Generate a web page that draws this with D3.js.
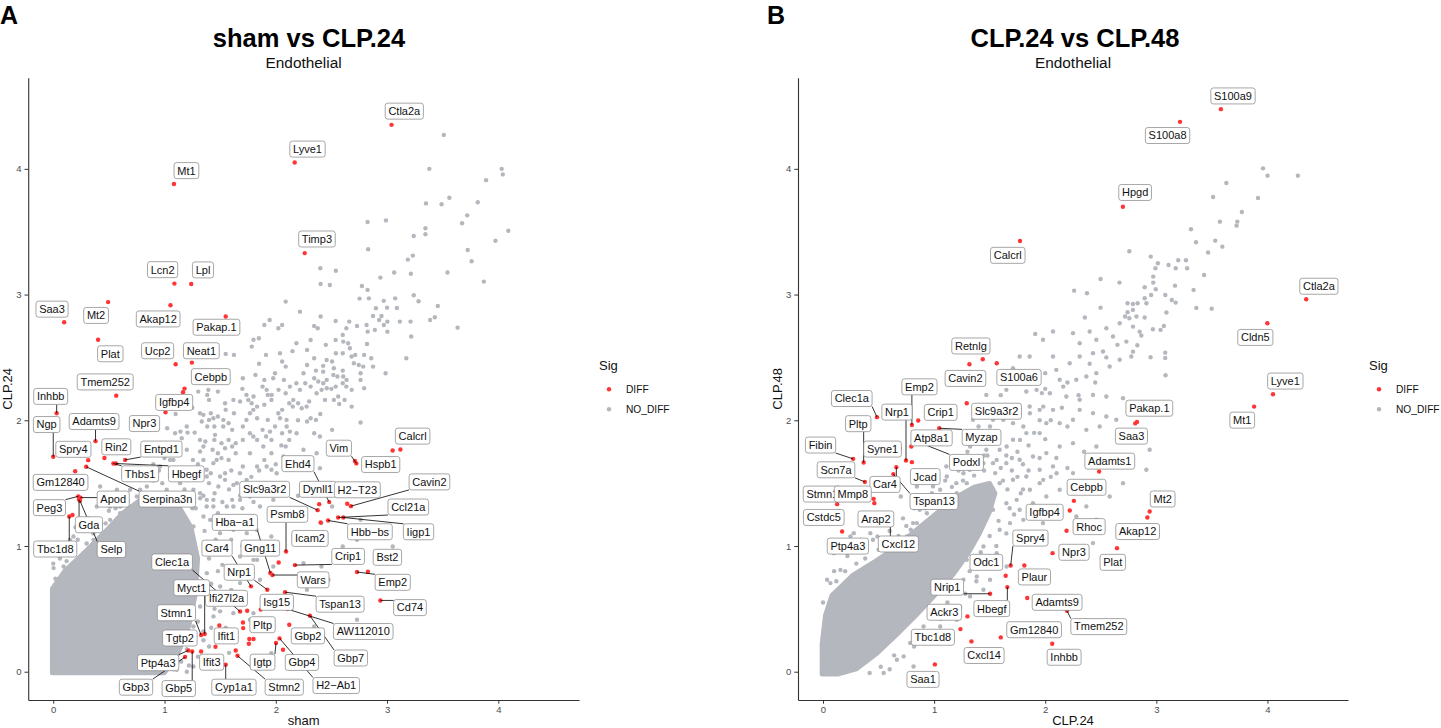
<!DOCTYPE html>
<html><head><meta charset="utf-8">
<script src="https://cdn.jsdelivr.net/npm/d3@7"></script>
<style>
body{margin:0;background:#fff}
svg{display:block}
text{font-family:"Liberation Sans",Arial,Helvetica,sans-serif}
</style></head>
<body><svg id="c" width="1441" height="728"></svg>
<script>
// ---------------- DATA ----------------
const tickValues = [0, 1, 2, 3, 4];
const panelTags = ["A", "B"];
const panelTitles = ["sham vs CLP.24", "CLP.24 vs CLP.48"];
const panelSubtitles = ["Endothelial", "Endothelial"];
const xTitles = ["sham", "CLP.24"];
const yTitles = ["CLP.24", "CLP.48"];
const legendTitle = "Sig";
const legendKeys = ["DIFF", "NO_DIFF"];

// significant genes: [gene, x, y]
const diffA = [
["Ctla2a",3.04,4.35],["Lyve1",2.17,4.05],["Mt1",1.085,3.88],["Timp3",2.26,3.33],
["Lcn2",1.089,3.087],["Lpl",1.24,3.084],["Mt2",0.493,2.94],["Saa3",0.098,2.78],
["Akap12",1.054,2.915],["Pakap.1",1.55,2.825],["Plat",0.403,2.64],["Ucp2",1.10,2.446],
["Neat1",1.246,2.459],["Cebpb",1.18,2.252],["Tmem252",0.566,2.196],["Igfbp4",1.009,2.064],
["Inhbb",0.031,2.056],["Ngp",0.0,1.71],["Adamts9",0.38,1.834],["Npr3",0.86,1.95],
["Spry4",0.314,1.683],["Rin2",0.46,1.70],["Entpd1",0.646,1.685],["Thbs1",0.541,1.656],
["Hbegf",0.563,1.656],["Serpina3n",0.296,1.63],["Gm12840",0.197,1.595],["Peg3",0.225,1.395],
["Apod",0.245,1.385],["Gda",0.232,1.37],["Selp",0.24,1.36],["Tbc1d8",0.144,1.235],
["Vim",2.724,1.657],["Hspb1",2.711,1.677],["Calcrl",3.05,1.76],["Ehd4",2.48,1.349],
["Dynll1",2.39,1.333],["Slc9a3r2",2.376,1.285],["H2\u2212T23",2.642,1.336],["Cavin2",2.675,1.317],
["Ccl21a",2.56,1.227],["Hbb\u2212bs",2.47,1.203],["Iigp1",2.607,1.227],["Icam2",2.403,1.187],
["Psmb8",2.092,0.956],["Hba\u2212a1",1.951,0.785],["Gng11",2.026,0.869],["Wars",1.97,0.769],
["Crip1",2.172,0.848],["Car4",1.777,0.679],["Nrp1",1.924,0.652],["Tspan13",2.083,0.633],
["Isg15",1.865,0.494],["AW112010",2.105,0.498],["Gbp7",2.307,0.445],["Gbp2",2.121,0.374],
["Gbp4",2.065,0.175],["H2\u2212Ab1",2.034,0.265],["Igtp",2.002,0.228],["Pltp",1.705,0.392],
["Clec1a",1.679,0.479],["Ifi27l2a",1.743,0.485],["Myct1",1.361,0.30],["Stmn1",1.329,0.292],
["Tgtp2",1.329,0.161],["Ptp4a3",1.214,0.169],["Gbp5",1.249,0.161],["Gbp3",1.185,0.117],
["Ifit1",1.493,0.368],["Ifit3",1.458,0.199],["Cyp1a1",1.55,0.056],["Stmn2",1.656,0.127],
["Bst2",2.828,0.795],["Emp2",2.73,0.793],["Cd74",2.94,0.567]
];
const diffExtraA = [[1.166,2.223],[0.173,1.246],[3.12,1.767],[1.707,0.347],[1.762,0.26],[1.80,0.26],[1.758,0.223],[1.64,0.169]];

const diffB = [
["S100a9",3.581,4.475],["S100a8",3.213,4.374],["Hpgd",2.699,3.699],["Calcrl",1.773,3.426],
["Ctla2a",4.349,2.963],["Cldn5",3.999,2.772],["Lyve1",4.05,2.207],["Mt1",3.88,2.109],
["Pakap.1",2.826,1.987],["Saa3",2.81,1.975],["Retnlg",1.438,2.486],["Cavin2",1.318,2.446],
["S100a6",1.564,2.454],["Slc9a3r2",1.294,2.136],["Crip1",0.857,1.998],["Emp2",0.80,1.963],
["Clec1a",0.486,2.025],["Nrp1",0.747,1.68],["Myzap",1.046,1.937],["Atp8a1",0.795,1.791],
["Podxl",0.846,1.831],["Syne1",0.691,1.775],["Jcad",0.80,1.667],["Fibin",0.271,1.693],
["Pltp",0.366,1.664],["Scn7a",0.377,1.51],["Car4",0.66,1.627],["Tspan13",0.633,1.572],
["Stmn1",0.127,1.333],["Mmp8",0.456,1.375],["Cstdc5",0.142,1.274],["Ptp4a3",0.172,1.115],
["Arap2",0.606,1.033],["Cxcl12",0.74,1.0],["Igfbp4",2.221,1.282],["Cebpb",2.258,1.359],
["Adamts1",2.485,1.592],["Rhoc",2.192,1.121],["Mt2",2.94,1.274],["Akap12",2.919,1.227],
["Npr3",2.066,0.943],["Plat",2.646,0.983],["Spry4",1.689,0.845],["Odc1",1.644,0.763],
["Plaur",1.812,0.845],["Nrip1",1.504,0.62],["Hbegf",1.659,0.673],["Adamts9",1.838,0.586],
["Tmem252",2.196,0.485],["Ackr3",1.30,0.44],["Tbc1d8",1.237,0.339],["Gm12840",1.60,0.273],
["Cxcl14",1.336,0.241],["Inhbb",2.063,0.223],["Saa1",1.007,0.058]
];
const diffExtraB = [[0.462,1.341]];

// non-significant genes (sparse & medium density zones)
const greyA_top = [
[3.51,4.27],[3.38,4.0],[4.03,4.0],[4.04,3.956],[3.89,3.91],[3.56,3.77],[3.35,3.725],[3.49,3.718],[3.815,3.734],[3.72,3.63],[3.674,3.567],[4.09,3.508],[2.825,3.577],[2.99,3.59],[3.345,3.527],[3.345,3.48],[3.24,3.466],[3.974,3.428],[2.83,3.36],[3.725,3.355],[3.232,3.31],[3.187,3.278],[3.76,3.265],[2.54,3.19],[3.064,3.175],[3.214,3.166],[3.543,3.175],[2.94,3.135],[3.87,3.103],[2.774,3.068],[2.825,3.037],[2.753,2.968],[2.837,2.97],[2.97,2.95],[3.073,2.97],[3.085,2.99],[3.24,2.995],[3.267,3.007],[3.283,2.947],[3.456,2.909],[2.9,2.891],[3.0,2.896],[3.088,2.893],[2.486,3.076]
];
const greyA_band = [
[1.024,1.937],[1.095,1.897],[1.143,1.91],[1.207,1.902],[1.271,1.902],[1.335,1.99],[1.416,2.056],[1.544,2.136],[1.384,2.202],[1.40,2.162],[1.303,2.228],[1.48,2.228],[1.55,2.083],[1.624,2.056],[1.576,1.977],[1.528,1.95],[1.448,1.844],[1.367,1.831],[1.432,1.765],[1.32,1.752],[1.255,1.685],[1.512,1.699],[1.608,1.791],[1.704,1.844],[1.768,1.738],[1.704,1.632],[1.544,1.579],[1.416,1.579],[1.32,1.606],[1.624,2.52],[1.55,2.528],[1.704,2.334],[1.817,2.361],[1.897,2.321],[1.881,2.268],[1.80,2.189],[1.736,2.202],[1.928,2.202],[2.089,2.215],[1.977,2.334],[1.80,2.64],[1.848,2.652],[1.784,2.586],[1.912,2.52],[1.897,2.758],[1.945,2.798],[2.057,2.758],[2.089,2.944],[2.217,2.864],
[2.40,3.209],[2.403,3.084],[2.467,3.076],
[3.211,2.785],[3.429,2.819],[3.387,2.798],[3.634,2.737],[2.874,2.83],[2.929,2.798],[3.003,2.785],[2.971,2.758],[3.003,2.705],[2.89,2.719],[2.826,2.705],[2.73,2.75],[2.66,2.785],[3.217,2.666],[2.538,2.79],[2.403,2.825],
[2.634,2.732],[2.602,2.679],[2.538,2.639],[2.586,2.666],[2.65,2.613],[2.666,2.573],[2.714,2.52],[2.698,2.507],[2.602,2.533],[2.82,2.607],[2.794,2.52],[2.778,2.493],[2.858,2.493],[2.874,2.427],[2.987,2.374],[3.173,2.493],[2.746,2.44],[2.762,2.374],[2.762,2.321],[2.794,2.255],[2.762,1.982],
[2.506,2.467],[2.426,2.433],[2.361,2.395],[2.426,2.387],[2.522,2.414],[2.602,2.395],[2.554,2.348],[2.458,2.321],
[2.345,2.493],[2.281,2.44],[2.249,2.374],[2.185,2.294],[2.265,2.294],[2.313,2.268],[2.345,2.334],
[2.602,2.294],[2.634,2.268],[2.682,2.242],[2.538,2.268],[2.458,2.255],[2.442,2.162],[2.522,2.162],[2.57,2.13],[2.682,2.109],[2.618,2.162],
[2.201,2.136],[2.153,2.109],[2.233,2.096],[2.313,2.016],[2.361,2.003],[2.281,1.99],[2.506,1.924],[2.345,1.897],
[2.345,2.75],[2.377,2.732],[2.185,2.613],[2.313,2.639],[2.281,2.56],
[2.057,2.467],[2.089,2.427],[1.993,2.374],[2.073,2.321],[2.025,2.242],[2.089,2.189],[2.121,2.136],[2.057,2.083],
[1.961,2.162],[1.897,2.123],[1.832,2.109],[1.768,2.056],[1.736,2.003],[1.832,2.016],[1.928,2.003],[1.993,1.95],[2.057,1.897],[2.121,1.844],[2.089,1.791],
[1.881,1.924],[1.913,1.871],[1.961,1.844],[1.832,1.844],[1.768,1.897],[1.704,1.95],
[2.249,1.765],[1.961,1.738],[1.897,1.685],[1.832,1.632],[1.961,1.606],
[1.608,1.924],[1.576,1.844],[1.64,1.818],[1.544,1.778],[1.64,1.738],[1.576,1.685],[1.48,1.738],[1.512,1.818],
[1.448,1.95],[1.384,1.95],[1.40,2.003],[1.48,2.03]
];
const greyA_mid = [
[2.10,2.94],[2.217,2.856],[2.397,2.83],[2.531,2.785],[2.651,2.79],[2.726,2.758],[2.816,2.758],[2.90,2.777],[2.906,2.891],[2.995,2.904],[3.085,2.899],[2.95,2.83],[2.98,2.798],[2.89,2.724],[2.98,2.718],[3.01,2.692],[3.115,2.785],[3.205,2.785],[3.289,2.944],[3.459,2.909],[3.429,2.825],[3.40,2.785],[3.633,2.737],[3.175,2.493],[2.876,2.493],[2.756,2.44],[2.786,2.427],[2.846,2.4],[2.99,2.374],[2.681,2.507],[2.702,2.454],[2.636,2.546],[2.606,2.626],[2.651,2.613],[2.576,2.666],[2.54,2.533],[2.457,2.48],[2.442,2.427],[2.367,2.467],[2.337,2.493],[2.307,2.427],[2.262,2.308],[2.217,2.242],[2.187,2.109],[2.232,2.109],[2.277,2.109],[2.367,2.374],[2.382,2.308],[2.427,2.295],[2.487,2.321],[2.517,2.361],[2.606,2.348],[2.636,2.321],[2.696,2.268],[2.771,2.334],[2.786,2.255],[2.681,2.109],[2.756,1.99],[2.561,2.189],[2.472,2.189],[2.517,2.162],[2.367,2.215],[2.412,2.242],[2.127,2.268],[2.083,2.215],[2.068,2.44],[2.038,2.533],[2.023,2.732],[1.948,2.798],[1.903,2.745],[1.798,2.652],[1.843,2.639],[1.783,2.599],[1.709,2.334],[1.813,2.361],[1.888,2.348],[1.918,2.242],[1.963,2.202],[1.873,2.255],[1.753,2.162],[1.783,2.136],[1.679,2.149],[1.619,2.083],[1.574,2.109],[1.499,2.056],[1.529,2.003],[1.469,1.937],[1.439,2.016],[1.379,2.202],[1.394,2.149],[1.35,2.043],[2.038,2.016],[2.023,2.056],[2.098,1.95],[2.127,1.91],[2.187,1.897],[2.053,1.871],[2.008,1.95],[1.948,1.91],[1.903,1.844],[1.843,1.844],[1.768,1.897],[1.798,1.871],[1.709,1.871],[1.679,1.844],[1.619,1.818],[1.559,1.791],[1.589,1.765],[1.499,1.844],[1.439,1.791],[1.41,1.765],[1.439,1.659],[1.35,1.685],[1.41,1.579],[1.499,1.553],[1.544,1.526],[1.619,1.486],[1.709,1.486],[1.828,1.473],[1.888,1.42],[1.768,1.394],[1.679,1.367],[1.619,1.314],[1.559,1.235],[1.439,1.367],[1.379,1.314],[1.35,1.235],[1.41,1.208],[1.484,1.473],[2.397,1.871],[2.232,1.791],[2.367,1.738],[2.397,1.619],[1.963,1.765],[1.918,1.632],[2.068,1.712],[2.008,1.579],[1.858,1.314],[1.978,1.367],[1.948,1.235],[1.738,1.235],[1.619,1.129],[1.499,1.102],[1.828,1.129]
];
const greyA_halo = [
[1.394,2.242],[1.319,2.056],[1.215,1.897],[1.155,1.857],[1.319,1.844],[1.454,1.884],[1.559,1.818],[1.619,1.712],[1.469,1.685],[1.379,1.606],[1.20,1.606],[1.26,1.526],[1.14,1.5],[1.02,1.447],[0.87,1.394],[0.81,1.288],[0.93,1.208],[1.08,1.288],[1.32,1.42],[1.50,1.526],[1.678,1.579],[1.828,1.659],[1.439,1.314],[1.619,1.288],[1.738,1.526],[1.888,1.791],[1.978,1.924],[2.097,2.003],[1.798,2.083],[1.619,2.162],[2.157,2.162],[2.007,2.215],[0.661,1.076],[0.781,1.129],
[0.392,1.155],[0.511,1.208],[0.601,1.261],[0.511,1.314],[0.721,1.208],[0.781,1.447],[0.87,1.526],[0.96,1.632],[1.08,1.685],[1.02,1.791],[0.422,1.473],[0.182,1.076],[0.272,0.943],[0.422,0.837],[0.601,0.89],
[0.003,0.824],[-0.012,0.97],[0.093,0.837],[0.153,0.97],[0.243,0.89],[0.302,0.97],[0.362,1.049],[0.452,1.076],[0.542,1.129],[0.632,1.235],[0.691,1.314],[0.602,1.314],[0.751,1.394],[0.841,1.473],[0.931,1.526],[0.781,1.526],[0.691,1.447],[0.512,1.235],[0.422,1.155],[0.183,1.076],[0.392,1.314],[0.482,1.367],[0.572,1.447],[0.661,1.526],[0.841,1.606],[0.961,1.632],[1.05,1.685],[1.11,1.738],[1.2,1.765],[1.35,1.791],[1.44,1.738],[1.26,1.659],[1.38,1.553],[1.26,1.447],[1.14,1.394],[1.38,1.367],[1.50,1.447],[1.56,1.314],[1.38,1.235],[1.26,1.155],[1.14,1.235],[1.05,1.155],[1.02,1.049],[1.14,1.049],[1.26,1.049],[1.619,1.155],[1.739,1.102],[1.799,1.182],[1.679,0.917],[1.799,0.89],[1.56,0.837],[1.38,0.784],[1.26,0.731],[1.2,0.784],[1.14,0.705],[1.17,0.599],[1.32,0.519],[1.20,0.44],[1.11,0.36],[1.26,0.36],[1.02,0.254],[1.14,0.254],[0.901,0.148],[1.02,0.122],[1.26,0.042],[1.44,0.44],[1.56,0.599],[1.679,0.705],[1.50,0.678],[1.858,0.731],[1.978,0.837],[1.619,0.466],[1.799,0.466],[1.50,0.254],[0.841,0.0],[0.961,-0.011],[1.11,0.016],
[1.48,1.261],[1.608,1.367],[1.768,1.473],[1.96,1.42],[2.345,1.473],[2.506,1.314],[2.41,1.182],[1.96,1.076],[1.832,0.89],[2.249,0.864],[2.41,0.837],[2.28,0.652],[2.474,0.731],[2.698,0.864],[2.73,1.049],[2.762,1.208],[2.602,0.996],[2.602,0.572],[2.73,0.413],[2.922,0.28],[3.115,0.731],[3.051,0.996],[2.345,0.36],[1.96,0.36],[2.217,0.042],[1.96,0.148],[1.768,0.413]
];
const greyA_edge = [
[0.02,0.74],[0.0,0.86],[0.06,0.9],[0.12,0.88],[0.18,0.95],[0.1,1.02],[0.22,1.05],[0.3,1.02],[0.28,1.12],[0.36,1.1],[0.4,1.2],[0.47,1.18],[0.5,1.28],[0.56,1.3],[0.6,1.38],[0.67,1.36],[0.7,1.45],[0.76,1.47],[0.82,1.5],[0.9,1.52],[0.98,1.5],[1.05,1.55],[1.12,1.5],[1.18,1.45],[1.22,1.38],[1.28,1.3],[1.33,1.22],[1.36,1.12],[1.38,1.0],[1.4,0.9],[1.37,0.78],[1.36,0.66],[1.32,0.52],[1.3,0.4],[1.25,0.28],[1.2,0.18],[1.15,0.08],[1.08,0.02],[1.3,0.12],[1.35,0.25],[1.42,0.35],[1.45,0.6],[1.48,0.8],[1.46,1.05],[1.44,1.2],[1.35,1.4],[1.25,1.55],[1.16,1.62],[0.95,1.6],[0.85,1.58],[0.7,1.55],[0.6,1.46],[0.5,1.4],[0.4,1.3],[0.32,1.22],[0.2,1.15],[0.15,1.05],[0.05,0.98],[1.0,1.7],[1.1,1.68],[1.3,1.65],[1.4,1.5],[1.52,1.35],[1.55,1.15],[1.58,0.95],[1.52,0.7],[1.5,0.48],[1.4,0.2],[1.38,0.05],[1.22,0.05],[1.2,0.0],
[1.25,1.3],[1.32,1.38],[1.45,1.42],[1.52,1.55],[1.6,1.6],[1.65,1.5],[1.72,1.62],[1.78,1.55],[1.85,1.6],[1.9,1.7],[1.68,1.4],[1.58,1.45],[1.5,1.18],[1.62,1.22],[1.7,1.3],[1.8,1.35],[1.9,1.5],[2.0,1.65],[2.05,1.8],[1.95,1.05],[1.7,1.0],[1.6,1.05],[1.45,0.98],[1.52,0.85],[1.65,0.8],[1.42,0.7],[1.6,0.65],[1.7,0.55],[1.45,0.5],[1.55,0.35],[1.35,0.32],[1.45,0.12],[1.58,0.15],[1.28,0.85],[1.35,0.62],[1.15,1.5],[1.05,1.62],[0.9,1.65],[1.2,1.95],[1.1,2.05],[1.25,2.1],[1.7,2.25],[1.85,2.45],[2.15,2.55],[2.45,2.6],[2.3,2.15],[2.2,2.0],[2.4,2.05],[2.5,2.25],[2.15,1.65],[2.3,1.5],[2.2,1.4]
];
// outline of the solid, overplotted cloud near the origin
const denseCloudA = [[-0.01,-0.01],[1.0,-0.01],[1.12,0.14],[1.22,0.36],[1.28,0.62],[1.3,0.9],[1.24,1.15],[1.12,1.33],[0.97,1.42],[0.8,1.38],[0.62,1.26],[0.45,1.1],[0.28,0.95],[0.1,0.8],[-0.01,0.66]];

const greyB_top = [
[3.96,4.004],[4.001,3.946],[4.274,3.946],[3.63,3.887],[3.511,3.776],[3.915,3.768],[3.77,3.657],[3.572,3.58],[3.729,3.58],[3.722,3.548],[3.312,3.519],[3.357,3.416],[3.53,3.429],[3.594,3.381],[3.466,3.334],[3.485,3.334],[2.757,3.344],[2.95,3.302],[3.014,3.249],[3.11,3.235],[3.197,3.273],[3.267,3.273],[2.992,3.209],[3.174,3.209],[3.277,3.209],[2.972,3.143],[3.43,3.156],[2.972,3.095],[3.168,3.071],[2.895,3.058],[2.498,3.124],[2.668,3.095],[2.26,3.031],[2.376,3.01],[2.995,3.042],[3.335,3.037],[2.895,2.971],[2.953,2.997],[3.081,2.997],[3.139,2.957],[3.174,2.936],[2.741,2.931],[2.789,2.925],[2.831,2.931],[2.911,2.931],[2.498,2.896],[2.741,2.859],[2.789,2.878],[3.36,2.894],[3.498,2.888],[3.091,2.857],[2.357,2.817],[2.719,2.825],[2.757,2.812],[2.821,2.825],[2.895,2.817],
[2.775,2.798],[2.79,2.745],[3.068,2.75],[3.038,2.719],[2.969,2.724],[2.85,2.705],[2.865,2.674],[2.829,2.597],[2.79,2.546],[2.775,2.507],[2.948,2.501],[3.08,2.538],[3.08,2.496],[3.083,2.358]
];
const greyB_band = [
[2.73,2.878],[2.67,2.772],[2.55,2.732],[2.40,2.706],[2.25,2.693],[2.07,2.706],[1.91,2.687],[1.98,2.64],[2.31,2.613],[2.46,2.64],[2.61,2.666],[2.73,2.626],[2.52,2.547],[2.43,2.534],[2.31,2.507],[2.22,2.454],[2.10,2.401],[2.07,2.507],[2.00,2.375],[1.86,2.507],[1.77,2.507],[1.71,2.414],[1.65,2.242],[1.83,2.229],[1.97,2.216],[2.13,2.322],[2.28,2.322],[2.37,2.348],[2.46,2.375],[2.58,2.428],[2.67,2.481],[2.70,2.176],[2.55,2.189],[2.43,2.202],[2.31,2.163],[2.19,2.189],[2.07,2.083],[1.95,2.083],[1.86,2.11],[1.77,2.057],[2.31,2.083],[2.43,2.057],[2.55,2.03],[2.64,2.004],[2.49,1.951],[2.37,1.924],[2.25,2.004],[2.13,1.977],[2.01,1.977],[1.95,1.898],[1.83,1.898],[1.71,1.845],[1.59,1.765],[1.47,1.765],[1.53,1.659],[1.65,1.659],[1.77,1.686],[1.89,1.712],[2.01,1.739],[2.13,1.792],[2.25,1.818],[2.46,1.792],[2.07,1.633],[1.95,1.606],[1.83,1.553],[1.71,1.527],[1.59,1.5],[1.47,1.447],[1.35,1.394],[2.25,1.58],[2.13,1.447],[2.01,1.394],[1.89,1.341],[1.77,1.288],[1.65,1.341],[1.53,1.288],[1.41,1.235],[1.29,1.182],[1.23,1.129],[2.07,1.262],[1.98,1.182],[1.59,1.129],[1.47,2.202],[1.47,2.083],[1.35,2.004],[1.53,2.004],[1.71,1.977],[1.29,1.911],[1.38,1.818],[1.23,1.712],[1.32,1.606],[1.11,1.633],[1.20,1.5],[0.99,1.474],[0.93,1.394],[1.11,1.288],[1.05,1.182],[0.87,1.288],[0.81,1.182],[0.70,1.394],[0.79,1.129],[0.64,1.05],[0.58,1.209],[0.49,1.076],[0.34,1.05],[0.28,0.997],[2.94,1.765],[2.91,1.606],[2.70,1.5],[2.58,1.394],[2.37,1.315],[2.46,1.209],[2.28,1.235],[2.43,1.023]
];
const greyB_halo = [
[0.426,1.102],[0.247,1.076],[0.097,0.943],[0.037,0.731],[0.157,0.625],[0.247,0.731],[0.396,0.837],[0.516,0.89],[0.606,0.917],[0.725,0.996],[0.875,1.076],[0.965,1.155],[1.024,1.261],[1.114,1.341],[1.204,1.42],[1.294,1.5],[0.935,1.261],[0.845,1.182],[0.755,1.076],[0.905,1.394],[1.054,1.447],[1.114,1.553],[1.264,1.579],[1.354,1.659],[1.204,1.685],[1.324,1.791],[1.444,1.844],[1.503,1.95],[1.623,2.003],[1.683,2.083],[1.563,2.109],[1.444,1.659],[1.563,1.685],[1.653,1.791],[1.773,1.844],[1.803,1.95],[1.862,2.056],[1.982,2.109],[2.042,2.215],[1.922,2.242],[2.162,2.268],[2.251,2.321],[0.995,1.526],[0.845,1.473],
[1.503,1.261],[1.623,1.314],[1.743,1.367],[1.862,1.447],[1.982,1.526],[2.102,1.579],[1.683,1.182],[1.803,1.208],[1.563,1.102],[1.444,0.996],[1.563,0.943],[1.384,0.837],[1.264,0.731],[1.503,0.731],[1.144,0.625],[1.324,0.599],[1.025,0.493],[0.905,0.36],[0.785,0.228],[0.665,0.095],[0.546,-0.01],[0.815,0.042],[1.084,0.307],[1.204,0.413],[1.444,0.652],[1.653,0.837],
[0.815,0.029],[0.726,0.122],[1.055,0.36],[1.234,0.519],[1.384,0.757],[1.294,0.89],[1.534,0.943],[0.157,0.81],[0.067,0.705],[0.277,1.102]
];
const greyB_edge = [
[0.0,0.55],[0.05,0.68],[0.12,0.72],[0.2,0.8],[0.3,0.86],[0.38,0.9],[0.5,0.97],[0.58,1.04],[0.68,1.08],[0.75,1.16],[0.85,1.2],[0.92,1.3],[1.0,1.34],[1.08,1.4],[1.16,1.47],[1.26,1.52],[1.36,1.56],[1.45,1.6],[1.55,1.58],[1.62,1.52],[1.6,1.62],[1.7,1.6],[1.66,1.45],[1.62,1.35],[1.58,1.2],[1.5,1.08],[1.42,0.95],[1.32,0.8],[1.2,0.68],[1.12,0.55],[0.98,0.45],[0.88,0.33],[0.76,0.24],[0.64,0.13],[0.52,0.04],[0.42,-0.01],[0.6,0.02],[0.7,0.1],[0.82,0.2],[0.95,0.3],[1.06,0.42],[1.16,0.5],[1.28,0.62],[1.38,0.72],[1.48,0.85],[1.56,1.0],[1.65,1.1],[1.72,1.25],[1.78,1.42],[1.75,1.55],[0.1,0.8],[0.22,0.92],[0.35,0.98],[0.45,1.05],[0.6,1.12],[0.72,1.22],[0.82,1.3],[0.98,1.42],[1.1,1.52],[1.22,1.6],[1.35,1.68],[1.48,1.72],[1.6,1.75],[1.7,1.7],
[1.55,1.65],[1.65,1.72],[1.75,1.75],[1.85,1.8],[1.9,1.9],[2.0,1.85],[2.05,2.0],[2.15,2.1],[2.2,1.95],[1.95,2.0],[1.8,1.65],[1.72,1.5],[1.85,1.6],[1.95,1.7],[2.1,1.7],[2.2,1.62],[2.35,1.75],[2.4,1.9],[2.3,2.2],[2.45,2.3],[2.55,2.5],[2.65,2.6],[2.4,2.45],[2.2,2.3],[2.0,2.25],[1.9,2.35],[1.75,2.3],[1.6,2.2],[1.55,2.05],[1.4,1.95],[1.3,1.75],[1.45,1.72],[1.3,1.62],[1.15,1.45],[1.25,1.3],[1.35,1.3],[1.68,1.3],[1.8,1.45],[1.95,1.5],[2.05,1.55]
];
const denseCloudB = [[-0.01,-0.02],[-0.01,0.22],[0.02,0.45],[0.08,0.61],[0.27,0.77],[0.47,0.88],[0.64,0.98],[0.8,1.1],[0.95,1.21],[1.09,1.31],[1.22,1.4],[1.36,1.47],[1.5,1.5],[1.55,1.42],[1.5,1.27],[1.41,1.1],[1.3,0.93],[1.17,0.77],[1.01,0.61],[0.84,0.45],[0.66,0.29],[0.48,0.14],[0.3,0.02],[0.14,-0.02]];

// ---------------- LAYOUT (label centres, data units) ----------------
const labelPosA = {
"Ctla2a":[3.155,4.459],"Lyve1":[2.285,4.157],"Mt1":[1.197,3.986],"Timp3":[2.37,3.442],
"Lcn2":[0.983,3.198],"Lpl":[1.346,3.196],"Mt2":[0.385,2.834],"Saa3":[-0.011,2.884],
"Akap12":[0.943,2.806],"Pakap.1":[1.467,2.74],"Plat":[0.513,2.529],"Ucp2":[0.938,2.553],
"Neat1":[1.331,2.553],"Cebpb":[1.416,2.347],"Tmem252":[0.467,2.305],"Igfbp4":[1.087,2.142],
"Inhbb":[-0.023,2.19],"Ngp":[-0.059,1.966],"Adamts9":[0.367,1.99],"Npr3":[0.82,1.974],
"Spry4":[0.181,1.769],"Rin2":[0.567,1.789],"Entpd1":[0.972,1.771],"Thbs1":[0.781,1.574],
"Hbegf":[1.196,1.574],"Serpina3n":[1.025,1.373],"Gm12840":[0.066,1.506],"Peg3":[-0.034,1.305],
"Apod":[0.539,1.373],"Gda":[0.321,1.169],"Selp":[0.523,0.972],"Tbc1d8":[0.018,0.976],
"Vim":[2.567,1.778],"Hspb1":[2.943,1.648],"Calcrl":[3.23,1.874],"Ehd4":[2.199,1.655],
"Dynll1":[2.379,1.451],"Slc9a3r2":[1.90,1.451],"H2\u2212T23":[2.733,1.447],"Cavin2":[3.381,1.51],
"Ccl21a":[3.191,1.31],"Hbb\u2212bs":[2.846,1.113],"Iigp1":[3.283,1.113],"Icam2":[2.307,1.06],
"Psmb8":[2.105,1.252],"Hba\u2212a1":[1.632,1.188],"Gng11":[1.861,0.983],"Wars":[2.336,0.731],
"Crip1":[2.65,0.917],"Car4":[1.472,0.983],"Nrp1":[1.672,0.791],"Tspan13":[2.578,0.537],
"Isg15":[2.009,0.552],"AW112010":[2.786,0.32],"Gbp7":[2.674,0.109],"Gbp2":[2.289,0.285],
"Gbp4":[2.235,0.074],"H2\u2212Ab1":[2.543,-0.11],"Igtp":[1.881,0.076],"Pltp":[1.881,0.374],
"Clec1a":[1.068,0.873],"Ifi27l2a":[1.557,0.584],"Myct1":[1.244,0.668],"Stmn1":[1.107,0.469],
"Tgtp2":[1.138,0.268],"Ptp4a3":[0.943,0.072],"Gbp5":[1.128,-0.134],"Gbp3":[0.744,-0.123],
"Ifit1":[1.555,0.285],"Ifit3":[1.424,0.076],"Cyp1a1":[1.624,-0.123],"Stmn2":[2.076,-0.123],
"Bst2":[3.003,0.91],"Emp2":[3.051,0.711],"Cd74":[3.206,0.51]
};
const labelPosB = {
"S100a9":[3.69,4.58],"S100a8":[3.101,4.265],"Hpgd":[2.809,3.812],"Calcrl":[1.663,3.312],
"Ctla2a":[4.463,3.066],"Cldn5":[3.891,2.659],"Lyve1":[4.161,2.312],"Mt1":[3.773,2.001],
"Pakap.1":[2.937,2.096],"Saa3":[2.776,1.874],"Retnlg":[1.331,2.591],"Cavin2":[1.282,2.333],
"S100a6":[1.764,2.341],"Slc9a3r2":[1.562,2.072],"Crip1":[1.059,2.063],"Emp2":[0.868,2.266],
"Clec1a":[0.259,2.173],"Nrp1":[0.666,2.065],"Myzap":[1.427,1.864],"Atp8a1":[0.977,1.86],
"Podxl":[1.291,1.665],"Syne1":[0.536,1.771],"Jcad":[0.92,1.552],"Fibin":[-0.022,1.803],
"Pltp":[0.317,1.973],"Scn7a":[0.117,1.606],"Car4":[0.558,1.49],"Tspan13":[0.999,1.354],
"Stmn1":[-0.006,1.413],"Mmp8":[0.268,1.413],"Cstdc5":[0.007,1.227],"Ptp4a3":[0.224,0.999],
"Arap2":[0.476,1.215],"Cxcl12":[0.678,1.016],"Igfbp4":[1.995,1.268],"Cebpb":[2.372,1.467],
"Adamts1":[2.581,1.675],"Rhoc":[2.395,1.154],"Mt2":[3.057,1.374],"Akap12":[2.832,1.115],
"Npr3":[2.259,0.95],"Plat":[2.608,0.87],"Spry4":[1.867,1.063],"Odc1":[1.47,0.87],
"Plaur":[1.903,0.754],"Nrip1":[1.118,0.672],"Hbegf":[1.519,0.502],"Adamts9":[2.107,0.552],
"Tmem252":[2.482,0.359],"Ackr3":[1.092,0.473],"Tbc1d8":[0.989,0.274],"Gm12840":[1.90,0.334],
"Cxcl14":[1.45,0.129],"Inhbb":[2.17,0.115],"Saa1":[0.90,-0.061]
};

// ---------------- DRAWING ----------------
const svg = d3.select("#c");
const DOMAIN = [-0.225, 4.725];
const RED = "#FF3434", GREY = "#B4B7BD";
const PT_R = 2.2;

function mergeReadings(lists) {
  const out = [];
  lists.forEach(list => list.forEach(p => {
    if (!out.some(q => Math.abs(q[0]-p[0]) < 0.03 && Math.abs(q[1]-p[1]) < 0.03)) out.push(p);
  }));
  return out;
}

const panels = [
  {left:28.2, right:579, tagX:0, titleX:309, legendX:599, diff:diffA, extra:diffExtraA,
   grey:mergeReadings([greyA_top, greyA_band, greyA_mid, greyA_halo, greyA_edge]), cloud:denseCloudA, pos:labelPosA},
  {left:798, right:1348, tagX:767, titleX:1075, legendX:1369, diff:diffB, extra:diffExtraB,
   grey:mergeReadings([greyB_top, greyB_band, greyB_halo, greyB_edge]), cloud:denseCloudB, pos:labelPosB}
];

panels.forEach((P, i) => {
  const x = d3.scaleLinear().domain(DOMAIN).range([P.left, P.right]);
  const y = d3.scaleLinear().domain(DOMAIN).range([700, 77.7]);
  const g = svg.append("g");
  const cx = (P.left + P.right) / 2;

  // dense cloud
  g.append("path").datum(P.cloud)
    .attr("d", d3.line().x(d => x(d[0])).y(d => y(d[1])).curve(d3.curveLinearClosed))
    .attr("fill", GREY).attr("stroke", GREY).attr("stroke-width", PT_R*2).attr("stroke-linejoin", "round");
  // grey points
  g.append("g").selectAll("circle").data(P.grey).join("circle")
    .attr("cx", d => x(d[0])).attr("cy", d => y(d[1])).attr("r", PT_R).attr("fill", GREY);
  // red points
  const reds = P.diff.map(d => [d[1], d[2]]).concat(P.extra);
  g.append("g").selectAll("circle").data(reds).join("circle")
    .attr("cx", d => x(d[0])).attr("cy", d => y(d[1])).attr("r", PT_R).attr("fill", RED);

  // axes
  const ya = g.append("g").attr("transform", `translate(${P.left},0)`)
    .call(d3.axisLeft(y).tickValues(tickValues).tickFormat(d3.format("d")).tickSize(3.7).tickSizeOuter(0).tickPadding(3));
  const xa = g.append("g").attr("transform", `translate(0,700)`)
    .call(d3.axisBottom(x).tickValues(tickValues).tickFormat(d3.format("d")).tickSize(3.7).tickSizeOuter(0).tickPadding(3));
  [ya, xa].forEach(a => {
    a.select(".domain").attr("stroke", "#333").attr("stroke-width", 1.1);
    a.selectAll(".tick line").attr("stroke", "#333").attr("stroke-width", 1);
    a.selectAll(".tick text").attr("fill", "#4d4d4d").attr("font-size", 9.5)
      .attr("font-family", '"Liberation Sans",Arial,sans-serif');
  });

  // labels with segments
  const segG = g.append("g"), labG = g.append("g");
  const FS = 11, PAD = 3.2, BH = 16;
  P.diff.forEach(d => {
    const lp = P.pos[d[0]];
    if (!lp) return;
    const lx = x(lp[0]), ly = y(lp[1]);
    const grp = labG.append("g");
    const rect = grp.append("rect");
    const t = grp.append("text").text(d[0]).attr("font-size", FS).attr("fill", "#111")
      .attr("text-anchor", "middle").attr("x", lx).attr("y", ly + 3.9);
    const w = t.node().getComputedTextLength() + PAD*2;
    const x0 = lx - w/2, y0 = ly - BH/2;
    rect.attr("x", x0).attr("y", y0).attr("width", w).attr("height", BH).attr("rx", 2.5)
      .attr("fill", "#fff").attr("stroke", "#8a8a8a").attr("stroke-width", 0.75);
    const px = x(d[1]), py = y(d[2]);
    const qx = Math.max(x0, Math.min(x0 + w, px)), qy = Math.max(y0, Math.min(y0 + BH, py));
    if (Math.hypot(px - qx, py - qy) > 8.5) {
      segG.append("line").attr("x1", px).attr("y1", py).attr("x2", qx).attr("y2", qy)
        .attr("stroke", "#000").attr("stroke-width", 0.8);
    }
  });

  // titles
  svg.append("text").text(panelTags[i]).attr("x", P.tagX).attr("y", 24.3)
    .attr("font-size", 25).attr("font-weight", "bold").attr("fill", "#000");
  svg.append("text").text(panelTitles[i]).attr("x", P.titleX).attr("y", 46.7).attr("text-anchor", "middle")
    .attr("font-size", 25.5).attr("font-weight", "bold").attr("fill", "#000");
  svg.append("text").text(panelSubtitles[i]).attr("x", cx).attr("y", 67.7).attr("text-anchor", "middle")
    .attr("font-size", 15.4).attr("fill", "#111");
  svg.append("text").text(xTitles[i]).attr("x", cx).attr("y", 725).attr("text-anchor", "middle")
    .attr("font-size", 13).attr("fill", "#111");
  svg.append("text").text(yTitles[i]).attr("transform", `translate(${P.left - 16.4},${(77.7+700)/2}) rotate(-90)`)
    .attr("text-anchor", "middle").attr("font-size", 13).attr("fill", "#111");

  // legend
  const L = svg.append("g");
  L.append("text").text(legendTitle).attr("x", P.legendX).attr("y", 370).attr("font-size", 13).attr("fill", "#111");
  [RED, GREY].forEach((c, k) => {
    L.append("circle").attr("cx", P.legendX + 10).attr("cy", 389.3 + k*20).attr("r", PT_R).attr("fill", c);
    L.append("text").text(legendKeys[k]).attr("x", P.legendX + 27).attr("y", 393 + k*20)
      .attr("font-size", 10.2).attr("fill", "#111");
  });
});
</script>
</body></html>
